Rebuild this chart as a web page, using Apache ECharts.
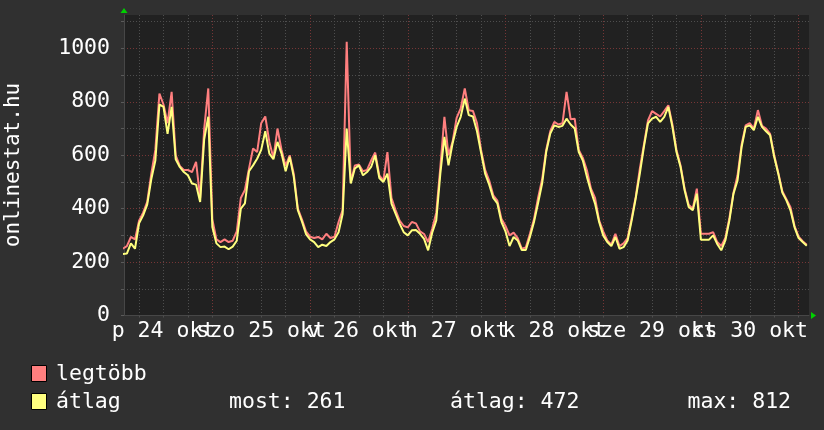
<!DOCTYPE html>
<html>
<head>
<meta charset="utf-8">
<script src="https://cdn.jsdelivr.net/npm/echarts@6/dist/echarts.min.js"></script>
<style>
html,body{margin:0;padding:0;background:#303030;}
#c{width:824px;height:430px;}
</style>
</head>
<body>
<div id="c"></div>
<script>
// hours since 24 okt 00:00
const hours = [];
for (let h = 2; h <= 170; h++) hours.push(h);

const legtobb = [
 250,260,294,285,355,385,425,530,620,831,790,720,837,600,560,545,545,537,575,440,700,850,360,
 285,275,285,275,280,315,440,470,550,625,612,720,745,650,590,700,620,560,600,530,400,360,315,
 295,290,294,285,306,290,295,350,395,1025,500,562,565,540,545,580,610,525,505,612,440,395,355,
 335,330,350,345,315,305,275,325,385,556,744,600,650,740,775,850,768,766,720,620,545,505,450,
 430,362,335,300,310,290,250,255,306,360,440,510,620,690,725,715,720,837,735,737,620,590,544,
 475,440,356,315,281,265,306,260,270,290,365,445,550,640,730,765,755,745,765,787,715,620,562,
 475,415,400,475,306,306,306,312,275,260,290,365,460,525,640,712,720,700,769,710,700,680,600,
 535,465,435,405,335,295,278,265
];
const atlag = [
 230,232,270,250,345,375,415,510,580,790,781,680,781,585,556,537,525,494,490,425,660,744,331,
 270,256,258,248,258,280,400,420,540,562,587,620,690,606,585,650,606,540,594,519,394,352,305,
 285,275,256,265,260,275,285,312,380,700,494,550,562,525,537,556,600,515,500,531,419,381,344,
 312,300,319,320,306,287,244,310,356,531,669,562,644,706,744,812,750,745,690,610,531,490,440,
 420,350,315,260,294,281,245,245,294,350,420,494,612,681,712,706,710,737,715,700,612,580,519,
 465,419,350,300,275,260,294,250,256,281,356,440,531,631,719,737,744,725,744,781,706,612,556,
 469,406,394,456,284,284,284,300,268,244,281,356,456,506,631,706,712,694,744,706,690,675,594,
 531,460,431,394,330,290,275,261
];

const yTicks = [0,100,200,300,400,500,600,700,800,900,1000,1100];
const yLabels = [0,200,400,600,800,1000];
const xTicks = [6,12,18,24,30,36,42,48,54,60,66,72,78,84,90,96,102,108,114,120,126,132,138,144,150,156,162,168];
const dayNoons = [12,36,60,84,108,132,156];
const dayLabels = ['p 24 okt','szo 25 okt','v 26 okt','h 27 okt','k 28 okt','sze 29 okt','cs 30 okt'];
const legendNames = ['legtöbb','átlag'];
const stats = ['most: 261','átlag: 472','max: 812'];

const FONT = 'DejaVu Sans Mono';
const MINOR = '#4e4e4e', MAJOR = '#763636';
const RED = '#ff7f7f', YEL = '#ffff7f';

function dayFmt(v){const i=dayNoons.indexOf(Math.round(v));return i>=0?dayLabels[i]:'';}
const noonsA = dayNoons.filter((d,i)=>i%2===0);
const noonsB = dayNoons.filter((d,i)=>i%2===1);
const labelBase = {color:'#ffffff',fontFamily:FONT,fontSize:21.5,margin:5,
  showMinLabel:true,showMaxLabel:true,hideOverlap:false,formatter:dayFmt};

const chart = echarts.init(document.getElementById('c'), null, {renderer:'canvas'});
chart.setOption({
  animation:false,
  backgroundColor:'#303030',
  grid:{left:124,right:15,top:15,bottom:114.5,show:true,backgroundColor:'#212121',borderWidth:0},
  xAxis:[{
    type:'value', min:2.3, max:170.55, position:'bottom',
    axisLine:{show:true,lineStyle:{color:'#474747',width:1}},
    axisTick:{show:true,length:2,customValues:xTicks,lineStyle:{color:MINOR}},
    axisLabel:Object.assign({customValues:noonsA},labelBase),
    splitLine:{show:true,lineStyle:{color:[MINOR,MINOR,MINOR,MAJOR],type:[1,2],width:1}}
  },{
    type:'value', min:2.3, max:170.55, position:'bottom', offset:0,
    axisLine:{show:false}, axisTick:{show:false}, splitLine:{show:false},
    axisLabel:Object.assign({customValues:noonsB},labelBase)
  }],
  yAxis:{
    type:'value', min:0, max:1125,
    axisLine:{show:true,lineStyle:{color:'#474747',width:1}},
    axisTick:{show:true,length:3,customValues:yTicks,lineStyle:{color:'#5a5a5a'}},
    axisLabel:{customValues:yLabels,color:'#ffffff',fontFamily:FONT,fontSize:21.5,margin:14,
      showMinLabel:true,showMaxLabel:true,formatter:function(v){return String(v);}},
    splitLine:{show:true,lineStyle:{color:[MAJOR,MINOR],type:[1,2],width:1}}
  },
  series:[
    {type:'line',name:legendNames[0],xAxisIndex:0,data:hours.map((h,i)=>[h,legtobb[i]]),symbol:'none',
     lineStyle:{color:RED,width:2},z:2},
    {type:'line',name:legendNames[1],xAxisIndex:0,data:hours.map((h,i)=>[h,atlag[i]]),symbol:'none',
     lineStyle:{color:YEL,width:2},z:3}
  ],
  graphic:[
    {type:'text',x:14,y:165,rotation:Math.PI/2,style:{text:'onlinestat.hu',font:'21px "DejaVu Sans Mono"',fill:'#ffffff',align:'center',verticalAlign:'middle'}},
    {type:'polygon',shape:{points:[[120.5,13],[127.5,13],[124,8]]},style:{fill:'#00d000'}},
    {type:'polygon',shape:{points:[[811,312],[811,319],[816,315.5]]},style:{fill:'#00d000'}},
    {type:'rect',shape:{x:31.5,y:365.5,width:15,height:16},style:{fill:RED,stroke:'#000',lineWidth:1}},
    {type:'rect',shape:{x:31.5,y:393.5,width:15,height:16},style:{fill:YEL,stroke:'#000',lineWidth:1}},
    {type:'text',x:56,y:374,style:{text:legendNames[0],font:'21.5px "DejaVu Sans Mono"',fill:'#fff',verticalAlign:'middle'}},
    {type:'text',x:56,y:402,style:{text:legendNames[1],font:'21.5px "DejaVu Sans Mono"',fill:'#fff',verticalAlign:'middle'}},
    {type:'text',x:229,y:402,style:{text:stats[0],font:'21.5px "DejaVu Sans Mono"',fill:'#fff',verticalAlign:'middle'}},
    {type:'text',x:450,y:402,style:{text:stats[1],font:'21.5px "DejaVu Sans Mono"',fill:'#fff',verticalAlign:'middle'}},
    {type:'text',x:687.5,y:402,style:{text:stats[2],font:'21.5px "DejaVu Sans Mono"',fill:'#fff',verticalAlign:'middle'}}
  ]
});
</script>
</body>
</html>
